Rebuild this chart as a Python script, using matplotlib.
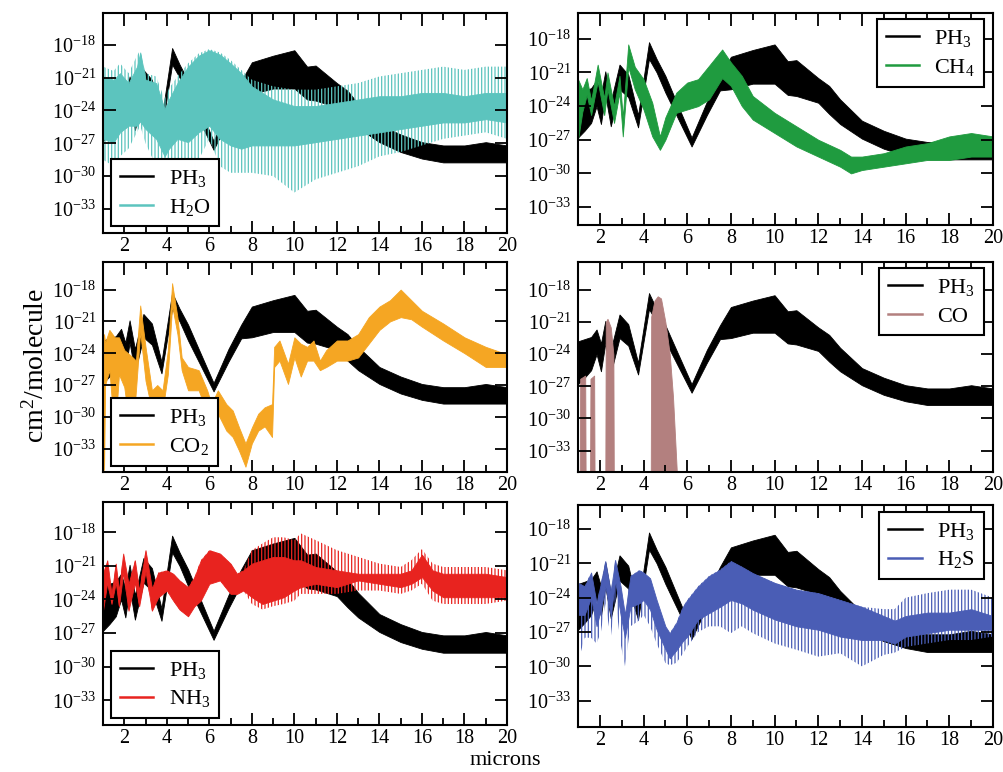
import numpy as np
import matplotlib
matplotlib.use('Agg')
import matplotlib.pyplot as plt
from matplotlib.lines import Line2D
from matplotlib.ticker import FixedLocator, MultipleLocator, NullLocator, FixedFormatter

plt.rcParams['font.family'] = 'serif'
plt.rcParams['font.serif'] = ['Liberation Serif', 'DejaVu Serif']
plt.rcParams['mathtext.fontset'] = 'custom'
plt.rcParams['mathtext.rm'] = 'Liberation Serif'
plt.rcParams['mathtext.it'] = 'Liberation Serif:italic'
plt.rcParams['mathtext.bf'] = 'Liberation Serif:bold'
plt.rcParams['hatch.linewidth'] = 0.9

# ---- data: log10 of cross section (cm^2/molecule), envelopes ----
ph3_x  = [1.0, 1.3, 1.6, 1.85, 2.05, 2.25, 2.5, 2.9, 3.3, 3.75, 4.25, 4.6, 5.0, 5.5, 6.2, 6.9,
          7.5, 8.0, 9.0, 10.0, 10.6, 11.0, 12.0, 12.5, 13.0, 14.0, 15.0, 16.0, 17.0, 18.0, 19.0, 20.0]
ph3_hi = [-22.8, -22.6, -22.4, -21.7, -23.0, -20.9, -23.6, -20.3, -21.2, -24.8, -18.3, -19.8, -21.3, -23.6, -26.8, -23.6,
          -21.3, -19.6, -19.0, -18.5, -20.0, -19.9, -21.5, -22.2, -23.4, -25.3, -26.2, -26.9, -27.2, -27.2, -26.9, -27.2]
ph3_lo = [-26.8, -26.2, -25.5, -24.0, -25.6, -23.0, -25.8, -22.5, -23.2, -25.9, -19.8, -21.0, -22.8, -24.8, -27.6, -24.8,
          -22.6, -22.5, -22.0, -22.0, -23.0, -23.1, -23.7, -24.7, -25.6, -26.9, -27.8, -28.4, -28.75, -28.75, -28.75, -28.75]

h2o_x  = [1.0, 1.5, 1.8, 2.2, 2.6, 2.75, 3.0, 3.5, 3.9, 4.1, 4.5, 5.0, 5.5, 6.0, 6.5, 7.0, 7.5, 8.0, 9.0, 10.0,
          11.0, 12.0, 13.0, 14.0, 15.0, 16.0, 17.0, 18.0, 19.0, 20.0]
h2o_hi = [-20.9, -21.2, -20.6, -21.5, -20.0, -18.7, -21.2, -21.5, -23.9, -23.0, -21.5, -20.0, -19.0, -18.5, -18.9, -19.7,
          -20.6, -21.8, -23.0, -23.6, -23.6, -23.3, -23.0, -22.7, -22.7, -22.4, -22.4, -22.7, -22.4, -22.4]
h2o_lo = [-26.6, -26.9, -26.0, -25.4, -25.4, -25.0, -25.7, -26.6, -28.2, -27.5, -26.6, -26.9, -26.0, -25.4, -26.6, -27.2,
          -27.5, -27.2, -27.2, -27.2, -26.9, -26.6, -26.3, -26.0, -25.7, -25.4, -25.1, -25.1, -24.8, -25.1]
h2o_spike_hi = [-20.0, -20.4, -19.7, -20.6, -19.0, -18.5, -20.6, -20.9, -23.0, -22.0, -20.9, -19.7, -18.8, -18.4, -18.7,
                -19.4, -20.3, -21.2, -21.8, -22.1, -22.1, -21.8, -21.5, -20.9, -20.6, -20.3, -20.0, -20.3, -20.0, -20.0]
h2o_spike_lo = [-28.5, -29.1, -28.2, -27.5, -26.0, -25.4, -27.0, -29.1, -30.3, -29.5, -28.9, -29.1, -28.5, -26.6, -29.1,
                -29.7, -29.7, -29.7, -30.0, -31.5, -30.3, -29.7, -29.1, -28.2, -27.8, -27.2, -26.6, -26.3, -26.0, -26.6]

ch4_x  = [1.0, 1.2, 1.4, 1.6, 1.9, 2.2, 2.35, 2.65, 2.9, 3.05, 3.3, 3.6, 4.0, 4.4, 4.75, 5.0, 5.5, 6.0, 6.5, 7.0,
          7.6, 8.0, 8.5, 9.0, 10.0, 11.0, 12.0, 13.0, 13.5, 14.0, 15.0, 16.0, 17.0, 18.0, 19.0, 20.0]
ch4_hi = [-21.6, -22.5, -21.5, -23.5, -20.3, -23.3, -21.0, -24.0, -21.3, -25.0, -18.5, -20.5, -21.6, -23.7, -26.7, -25.0,
          -22.8, -21.9, -21.6, -20.4, -18.95, -20.1, -21.3, -23.1, -24.6, -25.8, -27.0, -27.9, -28.5, -28.5, -28.2, -27.6,
          -27.3, -26.7, -26.4, -26.7]
ch4_lo = [-27.0, -24.5, -23.0, -24.8, -21.8, -24.8, -22.5, -25.5, -22.8, -26.7, -20.5, -22.5, -24.3, -26.7, -27.9, -27.0,
          -24.6, -24.3, -24.0, -23.4, -21.5, -22.2, -24.0, -25.2, -26.4, -27.6, -28.5, -29.4, -30.0, -29.7, -29.4, -29.1,
          -28.8, -28.8, -28.5, -28.5]

co2_x  = [1.0, 1.05, 1.1, 1.3, 1.55, 1.75, 2.0, 2.35, 2.55, 2.75, 3.0, 3.3, 3.55, 3.8, 4.05, 4.25, 4.5, 4.7, 5.0, 5.5,
          5.9, 6.1, 6.4, 6.8, 7.1, 7.4, 7.7, 8.0, 8.3, 8.6, 8.95, 9.05, 9.3, 9.7, 10.0, 10.3, 10.6, 10.9, 11.2, 11.5,
          12.0, 12.5, 13.0, 13.5, 14.0, 14.5, 15.0, 15.5, 16.0, 17.0, 18.0, 19.0, 20.0]
co2_hi = [-23.0, -22.2, -23.0, -21.8, -22.5, -22.5, -23.7, -24.3, -24.7, -19.5, -23.4, -27.5, -27.0, -27.5, -23.7, -17.4,
          -20.6, -24.4, -25.3, -25.6, -27.5, -28.8, -27.5, -28.8, -29.4, -31.0, -32.5, -31.0, -29.7, -29.1, -28.8, -23.4,
          -22.8, -25.0, -22.5, -23.1, -23.4, -22.8, -24.7, -23.7, -22.8, -22.8, -22.2, -20.6, -19.6, -19.0, -18.0, -19.0,
          -20.0, -21.2, -22.5, -23.4, -24.1]
co2_lo = [-26.0, -35.0, -27.0, -25.6, -31.9, -26.0, -27.2, -32.5, -27.5, -22.0, -26.6, -29.4, -34.1, -29.4, -26.0, -19.5,
          -22.2, -25.6, -27.5, -27.5, -29.7, -30.6, -29.7, -31.3, -31.9, -33.2, -34.7, -32.5, -31.3, -30.9, -31.9, -25.3,
          -24.7, -26.9, -24.4, -26.2, -24.7, -24.7, -25.6, -25.3, -24.7, -24.7, -24.4, -23.1, -21.8, -21.0, -20.6, -20.8,
          -21.5, -22.8, -24.0, -25.3, -25.3]

co_x   = [1.0, 1.08, 1.1, 1.33, 1.35, 1.55, 1.57, 1.74, 1.76, 2.25, 2.27, 2.35, 2.5, 2.62, 2.64, 4.33, 4.35, 4.5,
          4.65, 4.8, 5.0, 5.2, 5.35, 5.5, 5.55, 20.0]
co_top = [-36, -36, -26.3, -26.0, -36, -36, -26.3, -26.0, -36, -36, -21.0, -20.7, -21.5, -24.0, -36, -36, -20.5, -19.0,
          -18.6, -18.8, -21.0, -24.0, -28.0, -34.0, -36, -36]
co_floor = -36

nh3_x  = [1.0, 1.2, 1.4, 1.6, 1.75, 1.95, 2.2, 2.5, 2.7, 3.0, 3.3, 3.6, 4.0, 4.3, 4.6, 5.0, 5.3, 5.6, 6.0, 6.5,
          7.0, 7.3, 7.6, 8.0, 8.5, 9.0, 9.5, 10.0, 10.3, 11.0, 12.0, 13.0, 14.0, 15.0, 15.5, 16.0, 16.5, 17.0, 18.0,
          19.0, 20.0]
nh3_hi = [-21.7, -20.5, -23.5, -20.8, -23.2, -19.9, -22.6, -20.5, -23.2, -19.6, -23.0, -21.6, -21.4, -21.7, -22.3, -22.9,
          -22.0, -20.5, -19.6, -19.9, -20.8, -21.7, -21.4, -20.8, -20.5, -20.2, -20.2, -20.5, -20.5, -21.1, -21.4, -21.7,
          -21.7, -21.7, -21.4, -20.0, -21.4, -21.7, -21.7, -21.7, -22.0]
nh3_lo = [-25.0, -22.5, -24.4, -22.5, -24.6, -21.6, -25.0, -22.5, -24.6, -21.5, -25.0, -23.8, -23.2, -24.1, -24.9, -25.5,
          -24.6, -24.1, -22.6, -22.3, -23.5, -23.5, -23.2, -23.8, -24.4, -24.1, -23.8, -23.2, -22.9, -22.6, -22.9, -22.3,
          -22.6, -22.9, -22.6, -22.0, -23.2, -23.8, -23.8, -23.8, -23.8]
nh3_spike_hi = [-21.7, -20.5, -23.5, -20.8, -23.2, -19.9, -22.6, -20.5, -23.2, -19.6, -23.0, -21.6, -21.4, -21.7, -22.3,
                -22.9, -22.0, -20.5, -19.6, -19.9, -20.8, -21.7, -21.4, -19.6, -19.0, -18.45, -18.45, -18.7, -18.1, -18.7,
                -19.6, -20.2, -20.8, -21.1, -20.5, -19.5, -20.8, -21.1, -21.1, -21.1, -21.4]
nh3_spike_lo = [-25.0, -22.5, -24.4, -22.5, -24.6, -21.6, -25.0, -22.5, -24.6, -21.5, -25.0, -23.8, -23.2, -24.1, -24.9,
                -25.5, -24.6, -24.1, -22.6, -22.3, -23.5, -23.5, -23.2, -24.4, -24.9, -24.6, -24.4, -24.1, -23.5, -23.5,
                -23.5, -23.2, -23.2, -23.5, -23.2, -22.6, -24.1, -24.4, -24.4, -24.4, -24.1]

h2s_x  = [1.0, 1.3, 1.6, 1.85, 2.05, 2.25, 2.5, 2.7, 2.95, 3.15, 3.4, 3.8, 4.0, 4.3, 4.6, 5.0, 5.2, 5.5, 5.8, 6.0,
          6.5, 7.0, 7.5, 8.0, 8.5, 9.0, 10.0, 11.0, 12.0, 13.0, 14.0, 15.0, 15.5, 16.0, 17.0, 18.0, 19.0, 20.0]
h2s_hi = [-22.7, -23.0, -21.8, -24.5, -22.7, -20.8, -23.5, -20.7, -23.0, -25.5, -22.1, -21.6, -21.8, -22.3, -24.2, -26.5,
          -27.1, -26.2, -24.8, -24.2, -23.0, -22.1, -21.55, -20.8, -21.3, -21.85, -22.7, -23.3, -23.6, -24.2, -24.8, -25.6,
          -26.0, -25.6, -25.3, -25.3, -25.0, -25.6]
h2s_lo = [-25.5, -25.5, -24.0, -26.5, -25.0, -23.0, -25.6, -22.5, -25.5, -27.5, -24.8, -24.5, -24.2, -25.05, -26.8, -28.5,
          -29.3, -28.6, -27.8, -27.4, -25.9, -25.35, -24.8, -24.2, -24.5, -25.05, -25.9, -26.5, -26.8, -27.4, -27.7, -27.7,
          -28.0, -27.4, -27.1, -26.8, -26.8, -26.8]
h2s_spike_hi = [-22.7, -23.0, -21.8, -24.5, -22.7, -20.8, -23.5, -20.7, -23.0, -25.5, -22.1, -21.6, -21.8, -22.3, -24.2,
                -26.5, -27.1, -26.2, -24.8, -24.2, -23.0, -22.1, -21.55, -20.8, -21.3, -21.85, -22.7, -23.3, -23.6, -24.2,
                -24.8, -25.0, -25.0, -24.0, -23.6, -23.3, -23.3, -24.0]
h2s_spike_lo = [-29.7, -27.5, -27.5, -28.0, -27.0, -24.5, -27.5, -24.0, -28.0, -30.0, -26.5, -26.0, -25.5, -26.5, -28.0,
                -29.7, -29.9, -29.7, -28.9, -28.3, -27.0, -26.5, -26.5, -27.1, -26.5, -27.1, -28.0, -28.55, -29.15, -28.85,
                -30.0, -29.0, -28.8, -28.3, -28.0, -27.7, -27.7, -27.4]

ytick_exp = [-33, -30, -27, -24, -21, -18]
xtick_major = [2, 4, 6, 8, 10, 12, 14, 16, 18, 20]

colors = {
    'PH3': 'black', 'H2O': '#5cc4be', 'CH4': '#1f9b3f', 'CO2': '#f5a623',
    'CO': '#b3807f', 'NH3': '#e8231f', 'H2S': '#4a5db5',
}
labels = {
    'PH3': 'PH$_3$', 'H2O': 'H$_2$O', 'CH4': 'CH$_4$', 'CO2': 'CO$_2$',
    'CO': 'CO', 'NH3': 'NH$_3$', 'H2S': 'H$_2$S',
}

W, H = 1004, 772
fig = plt.figure(figsize=(W / 100, H / 100), dpi=100)


def px_axes(l, t, r, b):
    return fig.add_axes([l / W, 1 - b / H, (r - l) / W, (b - t) / H])


def band(ax, x, lo, hi, color, spike_lo=None, spike_hi=None):
    x = np.asarray(x, dtype=float)
    if spike_lo is not None:
        with plt.rc_context({'hatch.color': color}):
            ax.fill_between(x, 10.0 ** np.asarray(spike_lo), 10.0 ** np.asarray(spike_hi),
                            facecolor='none', edgecolor=color, hatch='|||||', linewidth=0)
    ax.fill_between(x, 10.0 ** np.asarray(lo), 10.0 ** np.asarray(hi),
                    facecolor=color, edgecolor=color, linewidth=0.6)


def style(ax, ylim, legend_key, loc):
    ax.set_yscale('log')
    ax.set_xlim(1, 20)
    ax.set_ylim(10.0 ** ylim[0], 10.0 ** ylim[1])
    ax.xaxis.set_major_locator(FixedLocator(xtick_major))
    ax.xaxis.set_minor_locator(MultipleLocator(1))
    ax.yaxis.set_major_locator(FixedLocator([10.0 ** e for e in ytick_exp]))
    ax.yaxis.set_major_formatter(FixedFormatter(['$10^{%d}$' % e for e in ytick_exp]))
    ax.yaxis.set_minor_locator(NullLocator())
    ax.tick_params(which='both', direction='in', top=True, right=True, width=1.3)
    ax.tick_params(which='major', length=9, labelsize=14.5, pad=5)
    ax.tick_params(axis='x', which='major', pad=3)
    ax.tick_params(which='minor', length=5)
    for s in ax.spines.values():
        s.set_linewidth(1.5)
    handles = [Line2D([], [], color=colors['PH3'], lw=1.8),
               Line2D([], [], color=colors[legend_key], lw=1.8)]
    if loc == 'lower left':
        anchor = (0.02, 0.03)
    else:
        anchor = (0.978, 0.97)
    leg = ax.legend(handles, [labels['PH3'], labels[legend_key]], loc=loc, bbox_to_anchor=anchor,
                    borderaxespad=0, fontsize=16, frameon=True, fancybox=False, framealpha=1,
                    edgecolor='black', handlelength=1.5, handletextpad=0.7, labelspacing=0.35,
                    borderpad=0.4)
    leg.get_frame().set_linewidth(1.5)


# top-left: H2O
ax = px_axes(103, 13, 507, 233)
band(ax, ph3_x, ph3_lo, ph3_hi, colors['PH3'])
band(ax, h2o_x, h2o_lo, h2o_hi, colors['H2O'], h2o_spike_lo, h2o_spike_hi)
style(ax, (-35.2, -15.1), 'H2O', 'lower left')

# top-right: CH4
ax = px_axes(578, 13, 993, 225)
band(ax, ph3_x, ph3_lo, ph3_hi, colors['PH3'])
band(ax, ch4_x, ch4_lo, ch4_hi, colors['CH4'])
style(ax, (-34.6, -15.7), 'CH4', 'upper right')

# middle-left: CO2
ax = px_axes(103, 262, 507, 472)
band(ax, ph3_x, ph3_lo, ph3_hi, colors['PH3'])
band(ax, co2_x, co2_lo, co2_hi, colors['CO2'])
style(ax, (-35.2, -15.4), 'CO2', 'lower left')

# middle-right: CO
ax = px_axes(578, 262, 993, 472)
band(ax, ph3_x, ph3_lo, ph3_hi, colors['PH3'])
ax.fill_between(co_x, 10.0 ** co_floor, 10.0 ** np.asarray(co_top, dtype=float),
                facecolor=colors['CO'], edgecolor=colors['CO'], linewidth=0.6)
style(ax, (-35.0, -15.4), 'CO', 'upper right')

# bottom-left: NH3
ax = px_axes(103, 502, 507, 725)
band(ax, ph3_x, ph3_lo, ph3_hi, colors['PH3'])
band(ax, nh3_x, nh3_lo, nh3_hi, colors['NH3'], nh3_spike_lo, nh3_spike_hi)
style(ax, (-35.2, -15.3), 'NH3', 'lower left')

# bottom-right: H2S
ax = px_axes(578, 505, 993, 727)
band(ax, ph3_x, ph3_lo, ph3_hi, colors['PH3'])
band(ax, h2s_x, h2s_lo, h2s_hi, colors['H2S'], h2s_spike_lo, h2s_spike_hi)
style(ax, (-35.3, -15.9), 'H2S', 'upper right')

fig.text(0.036, 0.527, 'cm$^2$/molecule', rotation=90, ha='center', va='center', fontsize=20)
fig.text(0.503, 0.002, 'microns', ha='center', va='bottom', fontsize=16)

fig.savefig('out.png', dpi=100)
